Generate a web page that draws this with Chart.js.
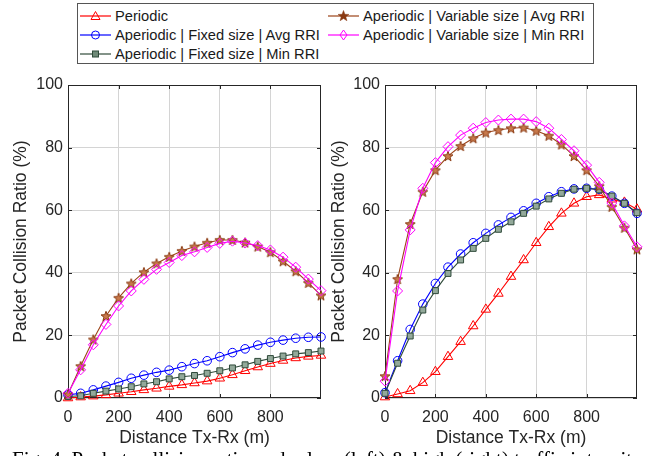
<!DOCTYPE html>
<html>
<head>
<meta charset="utf-8">
<script src="https://cdn.jsdelivr.net/npm/chart.js@4.4.0/dist/chart.umd.min.js"></script>
<style>
body { margin: 0; width: 656px; height: 456px; overflow: hidden; background: #fff; position: relative; font-family: "Liberation Sans", Arial, sans-serif; }
canvas { position: absolute; }
#legend { position: absolute; left: 77px; top: 3px; width: 517px; height: 61px; border: 1px solid #555; box-sizing: border-box; }
.item { position: absolute; height: 19px; display: flex; align-items: center; font-size: 14.7px; color: #1a1a1a; white-space: nowrap; }
.item svg { margin-right: 4px; }
#caption { position: absolute; left: 12px; top: 450px; font: 21px/18px "Liberation Serif", "Times New Roman", serif; white-space: nowrap; color: #000; }
</style>
</head>
<body>
<div id="legend"></div>
<canvas id="leftChart" width="330" height="386" style="left:0;top:70px"></canvas>
<canvas id="rightChart" width="334" height="386" style="left:322px;top:70px"></canvas>
<div id="caption">Fig. 4. Packet collision ratio under low (left) &amp; high (right) traffic intensity</div>
<script>
// Data
const distances = [0, 50, 100, 150, 200, 250, 300, 350, 400, 450, 500, 550, 600, 650, 700, 750, 800, 850, 900, 950, 1000];
const xTickValues = [0, 200, 400, 600, 800];
const yTickValues = [0, 20, 40, 60, 80, 100];
const seriesNames = ["Periodic", "Aperiodic | Fixed size | Avg RRI", "Aperiodic | Fixed size | Min RRI",
                     "Aperiodic | Variable size | Avg RRI", "Aperiodic | Variable size | Min RRI"];

// low traffic (left)
const periodicLow = [0, 0.3, 0.6, 1.0, 1.5, 2.0, 2.6, 3.1, 3.7, 4.2, 4.8, 5.4, 6.3, 7.4, 8.7, 9.9, 11.0, 12.0, 12.8, 13.3, 13.6];
const fixedAvgLow = [1.0, 1.5, 2.6, 3.8, 5.0, 6.3, 7.3, 8.2, 8.9, 10.0, 11.0, 11.9, 13.2, 14.5, 15.7, 16.9, 17.8, 18.5, 19.1, 19.4, 19.5];
const fixedMinLow = [0.5, 0.7, 1.5, 2.2, 2.9, 3.6, 4.5, 5.2, 6.1, 6.8, 7.2, 7.9, 8.7, 9.6, 10.6, 11.7, 12.6, 13.4, 14.1, 14.5, 15.0];
const varAvgLow = [1.2, 10.2, 18.7, 26.2, 32.0, 36.6, 40.2, 43.0, 45.1, 47.0, 48.4, 49.6, 50.5, 50.5, 49.7, 48.4, 46.6, 43.7, 40.5, 36.8, 32.8];
const varMinLow = [1.5, 9.0, 17.0, 23.5, 29.4, 34.2, 37.9, 41.1, 43.3, 45.5, 46.7, 48.1, 49.4, 50.1, 49.5, 48.7, 47.3, 45.0, 41.8, 38.0, 34.3];

// high traffic (right)
const periodicHigh = [0.3, 1.3, 2.3, 4.9, 8.4, 13.2, 18.0, 23.0, 28.3, 33.4, 38.8, 44.1, 49.6, 54.7, 59.0, 62.2, 64.3, 64.9, 63.5, 62.5, 60.3];
const fixedAvgHigh = [1.7, 11.9, 21.9, 30.0, 36.6, 41.8, 46.0, 49.6, 52.6, 55.3, 57.7, 59.8, 62.2, 64.3, 65.9, 66.8, 67.0, 66.7, 64.5, 62.2, 59.0];
const fixedMinHigh = [1.5, 11.1, 19.8, 28.1, 34.3, 39.8, 44.1, 47.8, 51.0, 53.9, 56.3, 59.0, 61.3, 63.6, 65.4, 66.7, 67.0, 66.5, 64.5, 62.2, 59.2];
const varAvgHigh = [7.0, 38.0, 55.6, 65.9, 72.8, 77.3, 80.5, 83.0, 84.8, 85.6, 86.2, 86.4, 85.4, 83.8, 81.0, 77.3, 72.8, 67.7, 61.1, 54.4, 47.5];
const varMinHigh = [5.4, 34.2, 53.7, 67.0, 75.2, 80.3, 84.0, 86.2, 88.0, 88.8, 89.1, 89.1, 88.3, 86.2, 82.6, 79.0, 74.4, 68.9, 62.3, 55.0, 48.3];

const FONT = '"Liberation Sans", Arial, sans-serif';
const TEXT = '#262626';
Chart.defaults.font.family = FONT;
Chart.defaults.color = TEXT;

function starImage(size, stroke, fill) {
    const c = document.createElement('canvas');
    c.width = c.height = size;
    const g = c.getContext('2d');
    const r = size / 2 - 0.8, r2 = r * 0.42, cx = size / 2, cy = size / 2 + 0.5;
    g.beginPath();
    for (let i = 0; i < 10; i++) {
        const a = -Math.PI / 2 + i * Math.PI / 5;
        const rr = i % 2 ? r2 : r;
        g.lineTo(cx + rr * Math.cos(a), cy + rr * Math.sin(a));
    }
    g.closePath();
    g.fillStyle = fill; g.fill();
    g.strokeStyle = stroke; g.lineWidth = 1; g.stroke();
    return c;
}

const styles = [
    { color: '#ff0000', fill: 'rgba(0,0,0,0)', point: 'triangle', radius: 5.5 },
    { color: '#0000ff', fill: 'rgba(0,0,0,0)', point: 'circle', radius: 4.3 },
    { color: '#2f4a3a', fill: '#93a99a', point: 'rect', radius: 4.2 },
    { color: '#9c4318', fill: '#c87a4c', point: starImage(12, '#8a3a12', '#c87a4c'), radius: 5 },
    { color: '#ff00ff', fill: 'rgba(0,0,0,0)', point: 'rectRot', radius: 5 }
];

// Legend
const legendIcons = [
    '<polygon points="15.5,1.5 20,9.5 11,9.5" fill="none" stroke="#ff0000"/>',
    '<circle cx="15.5" cy="6" r="4" fill="none" stroke="#0000ff"/>',
    '<rect x="12.5" y="3" width="6" height="6" fill="#6f8a78" stroke="#2f4a3a"/>',
    '<polygon points="15.5,0.5 16.9,4.3 20.9,4.4 17.8,6.8 18.9,10.7 15.5,8.5 12.1,10.7 13.2,6.8 10.1,4.4 14.1,4.3" fill="#8a3a12" stroke="#8a3a12" stroke-width="0.5"/>',
    '<polygon points="15.5,1 19,6 15.5,11 12,6" fill="none" stroke="#ff00ff"/>'
];
const legendPos = [[2, 0], [2, 1], [2, 2], [250, 0], [250, 1]];
const legendEl = document.getElementById('legend');
seriesNames.forEach((name, i) => {
    const div = document.createElement('div');
    div.className = 'item';
    div.style.left = legendPos[i][0] + 'px';
    div.style.top = (2 + legendPos[i][1] * 19) + 'px';
    div.innerHTML = '<svg width="31" height="12"><line x1="0" y1="6" x2="31" y2="6" stroke="' + styles[i].color + '" stroke-width="1.2"/>' +
        legendIcons[i] + '</svg><span>' + name + '</span>';
    legendEl.appendChild(div);
});

// axes box with inner ticks
const boxPlugin = {
    id: 'box',
    beforeDatasetsDraw(chart) {
        const { ctx, chartArea: a, scales: { x, y } } = chart;
        ctx.save();
        ctx.strokeStyle = TEXT;
        ctx.lineWidth = 1;
        ctx.strokeRect(a.left + 0.5, a.top + 0.5, a.right - a.left - 1, a.bottom - a.top - 1);
        ctx.beginPath();
        xTickValues.forEach(v => {
            const px = Math.round(x.getPixelForValue(v)) + 0.5;
            ctx.moveTo(px, a.bottom); ctx.lineTo(px, a.bottom - 4);
            ctx.moveTo(px, a.top); ctx.lineTo(px, a.top + 4);
        });
        yTickValues.forEach(v => {
            const py = Math.round(y.getPixelForValue(v)) + 0.5;
            ctx.moveTo(a.left, py); ctx.lineTo(a.left + 4, py);
            ctx.moveTo(a.right, py); ctx.lineTo(a.right - 4, py);
        });
        ctx.stroke();
        ctx.restore();
    }
};

function makeChart(canvasId, seriesList, yAxisWidth, titleOffset, padRight) {
    const datasets = seriesList.map((vals, i) => ({
        label: seriesNames[i],
        data: distances.map((d, k) => ({ x: d, y: vals[k] })),
        borderColor: styles[i].color,
        backgroundColor: styles[i].fill,
        pointStyle: styles[i].point,
        pointRadius: styles[i].radius,
        pointBorderColor: styles[i].color,
        pointBackgroundColor: styles[i].fill,
        pointBorderWidth: 1,
        borderWidth: 1.1,
        tension: 0,
        clip: false,
        order: 4 - i
    }));
    return new Chart(document.getElementById(canvasId), {
        type: 'line',
        data: { datasets: datasets },
        options: {
            responsive: false,
            animation: false,
            events: [],
            layout: { padding: { top: 15, right: padRight, bottom: 0, left: 0 } },
            plugins: { legend: { display: false }, tooltip: { enabled: false } },
            scales: {
                x: {
                    type: 'linear', min: 0, max: 1000,
                    afterBuildTicks: s => { s.ticks = xTickValues.map(v => ({ value: v })); },
                    afterFit: s => { s.height = 58; },
                    grid: { color: '#d4d4d4', lineWidth: 1, drawTicks: false },
                    border: { display: false },
                    ticks: { font: { size: 16 }, color: TEXT, padding: 10, maxRotation: 0 },
                    title: { display: true, text: 'Distance Tx-Rx (m)', font: { size: 17.5 }, color: TEXT, padding: { top: 0, bottom: 7.5 } }
                },
                y: {
                    min: 0, max: 100,
                    afterBuildTicks: s => { s.ticks = yTickValues.map(v => ({ value: v })); },
                    afterFit: s => { s.width = yAxisWidth; },
                    grid: { color: '#d4d4d4', lineWidth: 1, drawTicks: false },
                    border: { display: false },
                    ticks: { font: { size: 16 }, color: TEXT, padding: 5 },
                    title: { display: true, text: 'Packet Collision Ratio (%)', font: { size: 17.5 }, color: TEXT, padding: { top: titleOffset, bottom: 0 } }
                }
            }
        },
        plugins: [boxPlugin]
    });
}

makeChart('leftChart', [periodicLow, fixedAvgLow, fixedMinLow, varAvgLow, varMinLow], 68, 11, 9);
makeChart('rightChart', [periodicHigh, fixedAvgHigh, fixedMinHigh, varAvgHigh, varMinHigh], 63, 6.5, 19);
</script>
</body>
</html>
